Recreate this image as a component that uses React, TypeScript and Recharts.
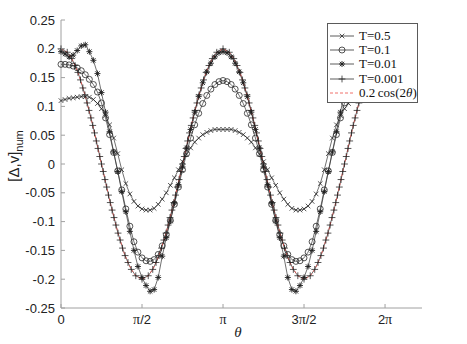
// ============================================================================
// Gap function vs. angle for several temperatures, with 0.2 cos(2θ) reference
// ============================================================================

import { ComposedChart, Line, XAxis, YAxis, Legend } from 'recharts';

// θ grid shared by the T = 0.5, 0.1 and 0.01 curves (0 .. 2π)
const thetaGrid = [
  0, 0.079, 0.157, 0.236, 0.314, 0.393, 0.471, 0.55, 0.628, 0.707,
  0.785, 0.864, 0.942, 1.021, 1.1, 1.178, 1.257, 1.335, 1.414, 1.492,
  1.571, 1.649, 1.728, 1.806, 1.885, 1.963, 2.042, 2.121, 2.199, 2.278,
  2.356, 2.435, 2.513, 2.592, 2.67, 2.749, 2.827, 2.906, 2.985, 3.063,
  3.142, 3.22, 3.299, 3.377, 3.456, 3.534, 3.613, 3.691, 3.77, 3.848,
  3.927, 4.006, 4.084, 4.163, 4.241, 4.32, 4.398, 4.477, 4.555, 4.634,
  4.712, 4.791, 4.869, 4.948, 5.027, 5.105, 5.184, 5.262, 5.341, 5.419,
  5.498, 5.576, 5.655, 5.733, 5.812, 5.89, 5.969, 6.048, 6.126, 6.205,
  6.283,
];

// T = 0.5  (× markers)
const gapT0_5 = [
  0.110, 0.112, 0.114, 0.115, 0.116, 0.117, 0.117, 0.116, 0.112, 0.105,
  0.096, 0.084, 0.068, 0.045, 0.018, -0.010, -0.034, -0.052, -0.065, -0.073,
  -0.078, -0.080, -0.080, -0.077, -0.070, -0.061, -0.050, -0.037, -0.024, -0.010,
  0.004, 0.017, 0.028, 0.038, 0.045, 0.051, 0.055, 0.058, 0.060, 0.060,
  0.060, 0.060, 0.060, 0.058, 0.055, 0.051, 0.045, 0.038, 0.028, 0.017,
  0.004, -0.010, -0.024, -0.037, -0.050, -0.061, -0.070, -0.077, -0.080, -0.080,
  -0.078, -0.073, -0.065, -0.052, -0.034, -0.010, 0.018, 0.045, 0.068, 0.084,
  0.096, 0.105, 0.112, 0.116, 0.117, 0.117, 0.116, 0.115, 0.114, 0.112,
  0.110,
];

// T = 0.1  (○ markers)
const gapT0_1 = [
  0.173, 0.173, 0.172, 0.170, 0.167, 0.162, 0.155, 0.147, 0.138, 0.125,
  0.106, 0.080, 0.051, 0.020, -0.012, -0.045, -0.078, -0.108, -0.135, -0.153,
  -0.163, -0.168, -0.169, -0.166, -0.157, -0.142, -0.123, -0.098, -0.070, -0.040,
  -0.010, 0.018, 0.045, 0.068, 0.088, 0.105, 0.119, 0.130, 0.138, 0.143,
  0.145, 0.143, 0.138, 0.130, 0.119, 0.105, 0.088, 0.068, 0.045, 0.018,
  -0.010, -0.040, -0.070, -0.098, -0.123, -0.142, -0.157, -0.166, -0.169, -0.168,
  -0.163, -0.153, -0.135, -0.108, -0.078, -0.045, -0.012, 0.020, 0.051, 0.080,
  0.106, 0.125, 0.138, 0.147, 0.155, 0.162, 0.167, 0.170, 0.172, 0.173,
  0.173,
];

// T = 0.01  (* markers)
const gapT0_01 = [
  0.195, 0.191, 0.186, 0.189, 0.197, 0.205, 0.207, 0.195, 0.180, 0.157,
  0.124, 0.090, 0.056, 0.021, -0.013, -0.048, -0.083, -0.117, -0.150, -0.178,
  -0.197, -0.211, -0.221, -0.218, -0.197, -0.160, -0.128, -0.099, -0.068, -0.036,
  -0.005, 0.028, 0.060, 0.090, 0.117, 0.141, 0.160, 0.175, 0.186, 0.193,
  0.195, 0.193, 0.186, 0.175, 0.160, 0.141, 0.117, 0.090, 0.060, 0.028,
  -0.005, -0.036, -0.068, -0.099, -0.128, -0.160, -0.197, -0.218, -0.221, -0.211,
  -0.197, -0.178, -0.150, -0.117, -0.083, -0.048, -0.013, 0.021, 0.056, 0.090,
  0.124, 0.157, 0.180, 0.195, 0.207, 0.205, 0.197, 0.189, 0.186, 0.191,
  0.195,
];

// T = 0.001 is sampled on its own (denser on the steep parts) grid
const thetaFine = [
  0, 0.121, 0.208, 0.272, 0.328, 0.378, 0.424, 0.465, 0.506, 0.543, 0.58,
  0.616, 0.65, 0.685, 0.718, 0.752, 0.785, 0.819, 0.853, 0.886, 0.921, 0.955,
  0.991, 1.028, 1.065, 1.106, 1.147, 1.193, 1.243, 1.299, 1.363, 1.45, 1.571,
  1.692, 1.779, 1.843, 1.899, 1.949, 1.995, 2.036, 2.077, 2.114, 2.151, 2.187,
  2.221, 2.256, 2.289, 2.323, 2.356, 2.39, 2.424, 2.457, 2.492, 2.526, 2.562,
  2.599, 2.636, 2.677, 2.718, 2.764, 2.814, 2.87, 2.934, 3.021, 3.142,
  3.263, 3.35, 3.414, 3.47, 3.52, 3.566, 3.607, 3.648, 3.685, 3.722, 3.758,
  3.792, 3.827, 3.86, 3.894, 3.927, 3.961, 3.995, 4.028, 4.063, 4.097, 4.133,
  4.17, 4.207, 4.248, 4.289, 4.335, 4.385, 4.441, 4.505, 4.592, 4.712,
  4.833, 4.92, 4.984, 5.04, 5.09, 5.136, 5.177, 5.218, 5.255, 5.292, 5.328,
  5.362, 5.397, 5.43, 5.464, 5.497, 5.531, 5.565, 5.598, 5.633, 5.667, 5.703,
  5.74, 5.777, 5.818, 5.859, 5.905, 5.955, 6.011, 6.075, 6.162, 6.283,
];

// T = 0.001  (+ markers) -- sits on 0.2 cos(2θ)
const gapT0_001 = [
  0.200, 0.194, 0.183, 0.171, 0.159, 0.146, 0.132, 0.120, 0.106, 0.093, 0.080,
  0.067, 0.054, 0.040, 0.027, 0.013, 0.000, -0.013, -0.027, -0.040, -0.054, -0.067,
  -0.080, -0.093, -0.106, -0.120, -0.132, -0.146, -0.159, -0.171, -0.183, -0.194, -0.200,
  -0.194, -0.183, -0.171, -0.159, -0.146, -0.132, -0.120, -0.106, -0.093, -0.080, -0.067,
  -0.054, -0.040, -0.027, -0.013, 0.000, 0.013, 0.027, 0.040, 0.054, 0.067, 0.080,
  0.093, 0.106, 0.120, 0.132, 0.146, 0.159, 0.171, 0.183, 0.194, 0.200,
  0.194, 0.183, 0.171, 0.159, 0.146, 0.132, 0.120, 0.106, 0.093, 0.080, 0.067,
  0.054, 0.040, 0.027, 0.013, 0.000, -0.013, -0.027, -0.040, -0.054, -0.067, -0.080,
  -0.093, -0.106, -0.120, -0.132, -0.146, -0.159, -0.171, -0.183, -0.194, -0.200,
  -0.194, -0.183, -0.171, -0.159, -0.146, -0.132, -0.120, -0.106, -0.093, -0.080, -0.067,
  -0.054, -0.040, -0.027, -0.013, 0.000, 0.013, 0.027, 0.040, 0.054, 0.067, 0.080,
  0.093, 0.106, 0.120, 0.132, 0.146, 0.159, 0.171, 0.183, 0.194, 0.200,
];

// Axis ticks
const xTickValues = [0, Math.PI / 2, Math.PI, (3 * Math.PI) / 2, 2 * Math.PI];
const xTickLabels = ['0', 'π/2', 'π', '3π/2', '2π'];
const yTickValues = [0.25, 0.2, 0.15, 0.1, 0.05, 0, -0.05, -0.1, -0.15, -0.2, -0.25];
const yTickLabels = ['0.25', '0.2', '0.15', '0.1', '0.05', '0', '-0.05', '-0.1', '-0.15', '-0.2', '-0.25'];

// Styles
const CHART_W = 467;
const CHART_H = 344;
const frameColor = '#a0a0a0';
const inkColor = '#222';
const curveColor = '#333';
const markerColor = '#1e1e1e';
const cosColor = '#ec4b45';
const sansFont = '"Liberation Sans", Arial, Helvetica, sans-serif';
const serifFont = '"Liberation Serif", "DejaVu Serif", serif';
const TICK_LEN = 4;

const toPoints = (thetas: number[], values: number[]) =>
  thetas.map((t, i) => ({ theta: t, value: values[i] }));

// ---------------------------------------------------------------------------
// Markers
// ---------------------------------------------------------------------------
type MarkerKind = 'cross' | 'circle' | 'star' | 'plus';

const Marker = ({ kind, cx, cy }: { kind: MarkerKind; cx: number; cy: number }) => {
  if (cx == null || cy == null || isNaN(cx) || isNaN(cy)) return null;
  const common = { stroke: markerColor, strokeWidth: 0.75, fill: 'none' };
  if (kind === 'circle') {
    return <circle cx={cx} cy={cy} r={3} {...common} />;
  }
  if (kind === 'cross') {
    const s = 2.3;
    return (
      <path
        d={`M${cx - s},${cy - s}L${cx + s},${cy + s}M${cx - s},${cy + s}L${cx + s},${cy - s}`}
        {...common}
      />
    );
  }
  if (kind === 'plus') {
    const s = 3.4;
    return <path d={`M${cx - s},${cy}L${cx + s},${cy}M${cx},${cy - s}L${cx},${cy + s}`} {...common} />;
  }
  // star = plus + cross
  const s = 3;
  const d = 2.2;
  return (
    <path
      d={
        `M${cx - s},${cy}L${cx + s},${cy}M${cx},${cy - s}L${cx},${cy + s}` +
        `M${cx - d},${cy - d}L${cx + d},${cy + d}M${cx - d},${cy + d}L${cx + d},${cy - d}`
      }
      {...common}
      strokeWidth={0.9}
    />
  );
};

const dotOf = (kind: MarkerKind) => (props: any) =>
  <Marker key={`${kind}-${props.index}`} kind={kind} cx={props.cx} cy={props.cy} />;

// ---------------------------------------------------------------------------
// Series / legend config
// ---------------------------------------------------------------------------
const series = [
  { name: 'T=0.5', kind: 'cross' as MarkerKind, data: toPoints(thetaGrid, gapT0_5) },
  { name: 'T=0.1', kind: 'circle' as MarkerKind, data: toPoints(thetaGrid, gapT0_1) },
  { name: 'T=0.01', kind: 'star' as MarkerKind, data: toPoints(thetaGrid, gapT0_01) },
  { name: 'T=0.001', kind: 'plus' as MarkerKind, data: toPoints(thetaFine, gapT0_001) },
];
const cosData = toPoints(thetaFine, gapT0_001);

// ---------------------------------------------------------------------------
// Axis ticks (drawn inward, MATLAB box style)
// ---------------------------------------------------------------------------
const XTickText = ({ label, x, y }: { label: string; x: number; y: number }) => {
  const parts = label.split('π');
  return (
    <text x={x} y={y} textAnchor="middle" fontFamily={sansFont} fontSize={13} fill={inkColor}>
      {parts.map((p, i) => (
        <tspan key={i}>
          {i > 0 && <tspan fontFamily={serifFont} fontSize={14}>π</tspan>}
          {p}
        </tspan>
      ))}
    </text>
  );
};

const BottomTick = (props: any) => {
  const { x, y, index } = props;
  return (
    <g>
      <line x1={x} y1={y} x2={x} y2={y - TICK_LEN} stroke={frameColor} strokeWidth={1} />
      <XTickText label={xTickLabels[index]} x={x} y={y + 16} />
    </g>
  );
};

const TopTick = (props: any) => {
  const { x, y } = props;
  return <line x1={x} y1={y} x2={x} y2={y + TICK_LEN} stroke={frameColor} strokeWidth={1} />;
};

const LeftTick = (props: any) => {
  const { x, y, index } = props;
  return (
    <g>
      <line x1={x} y1={y} x2={x + TICK_LEN} y2={y} stroke={frameColor} strokeWidth={1} />
      <text x={x - 6} y={y + 4.5} textAnchor="end" fontFamily={sansFont} fontSize={13} fill={inkColor}>
        {yTickLabels[index]}
      </text>
    </g>
  );
};

const RightTick = (props: any) => {
  const { x, y } = props;
  return <line x1={x} y1={y} x2={x - TICK_LEN} y2={y} stroke={frameColor} strokeWidth={1} />;
};

// Axis titles
const YTitle = () => (
  <text
    transform="translate(19,156) rotate(-90)"
    textAnchor="middle"
    fontFamily={sansFont}
    fontSize={15}
    fill={inkColor}
  >
    [Δ,v]
    <tspan dy={4} fontSize={11}>num</tspan>
  </text>
);

const XTitle = () => (
  <text x={238} y={337} textAnchor="middle" fontFamily={serifFont} fontStyle="italic" fontSize={15} fill={inkColor}>
    θ
  </text>
);

// ---------------------------------------------------------------------------
// Legend
// ---------------------------------------------------------------------------
const LegendSample = ({ kind, dashed }: { kind?: MarkerKind; dashed?: boolean }) => (
  <svg width={26} height={14} style={{ display: 'block', flex: 'none' }}>
    <line
      x1={0}
      y1={7}
      x2={24}
      y2={7}
      stroke={dashed ? cosColor : curveColor}
      strokeWidth={0.8}
      strokeDasharray={dashed ? '3 2' : undefined}
    />
    {kind && <Marker kind={kind} cx={12} cy={7} />}
  </svg>
);

const LegendBox = () => (
  <div
    style={{
      width: 87,
      padding: '5px 0 2px 2px',
      background: '#fff',
      border: '1px solid #5a5a5a',
      fontFamily: serifFont,
      fontSize: 13,
      color: '#111',
    }}
  >
    {series.map((s) => (
      <div key={s.name} style={{ display: 'flex', alignItems: 'center', height: 14.2, whiteSpace: 'nowrap' }}>
        <LegendSample kind={s.kind} />
        <span style={{ marginLeft: 3 }}>{s.name}</span>
      </div>
    ))}
    <div style={{ display: 'flex', alignItems: 'center', height: 14.2, whiteSpace: 'nowrap' }}>
      <LegendSample dashed />
      <span style={{ marginLeft: 3 }}>
        0.2&thinsp;cos(2<i>θ</i>)
      </span>
    </div>
  </div>
);

export default function App() {
  return (
    <div style={{ position: 'absolute', left: 0, top: 0, width: CHART_W, height: CHART_H, background: '#fff' }}>
      <ComposedChart width={CHART_W} height={CHART_H} margin={{ top: 20, right: 45, bottom: 0, left: 0 }}>
        <XAxis
          dataKey="theta"
          type="number"
          domain={[0, 7]}
          ticks={xTickValues}
          interval={0}
          height={36}
          axisLine={{ stroke: frameColor }}
          tickLine={false}
          tickSize={0}
          tickMargin={0}
          tick={<BottomTick />}
          label={<XTitle />}
        />
        <XAxis
          xAxisId="top"
          orientation="top"
          dataKey="theta"
          type="number"
          domain={[0, 7]}
          ticks={xTickValues}
          interval={0}
          height={0}
          axisLine={{ stroke: frameColor }}
          tickLine={false}
          tickSize={0}
          tickMargin={0}
          tick={<TopTick />}
        />
        <YAxis
          type="number"
          domain={[-0.25, 0.25]}
          ticks={yTickValues}
          interval={0}
          width={61}
          axisLine={{ stroke: frameColor }}
          tickLine={false}
          tickSize={0}
          tickMargin={0}
          tick={<LeftTick />}
          label={<YTitle />}
        />
        <YAxis
          yAxisId="right"
          orientation="right"
          type="number"
          domain={[-0.25, 0.25]}
          ticks={yTickValues}
          interval={0}
          width={0}
          axisLine={{ stroke: frameColor }}
          tickLine={false}
          tickSize={0}
          tickMargin={0}
          tick={<RightTick />}
        />

        {series.map((s) => (
          <Line
            key={s.name}
            name={s.name}
            data={s.data}
            dataKey="value"
            type="linear"
            stroke={curveColor}
            strokeWidth={0.7}
            dot={dotOf(s.kind)}
            activeDot={false}
            isAnimationActive={false}
          />
        ))}
        <Line
          name="0.2 cos(2θ)"
          data={cosData}
          dataKey="value"
          type="linear"
          stroke={cosColor}
          strokeWidth={0.8}
          strokeDasharray="3 2"
          dot={false}
          activeDot={false}
          isAnimationActive={false}
        />

        <Legend
          layout="horizontal"
          verticalAlign="middle"
          align="center"
          wrapperStyle={{ left: 327, top: 23, width: 91, height: 'auto' }}
          content={() => <LegendBox />}
        />
      </ComposedChart>
    </div>
  );
}
